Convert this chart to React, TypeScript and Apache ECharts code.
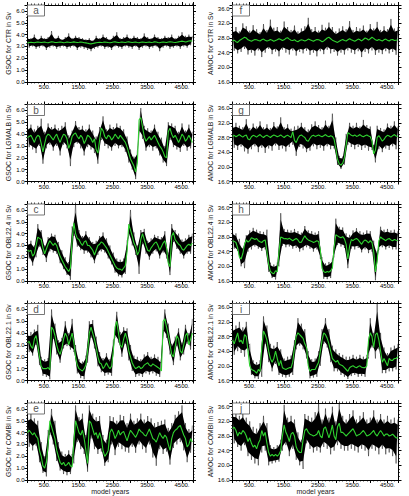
import React, { useEffect, useRef } from "react";
import * as echarts from "echarts";

// Sample years (50-year spacing) shared by every series
const YEARS: number[] = [];
for (let y = 0; y <= 4800; y += 50) YEARS.push(y);

const X_MAX = 4820;
const X_LABEL_YEARS = [500, 1500, 2500, 3500, 4500];

// Annual series is stored as alternating highs (even index) and lows (odd index);
// the running mean is the smoothed green curve.

// ---- GSOC (left column) ----
const gsocCtrRaw = [
  3.8, 2.9, 3.7, 3.0, 4.0, 2.8, 3.6, 2.9, 3.9, 3.0,
  3.7, 2.7, 3.8, 2.9, 4.3, 3.0, 3.7, 2.8, 3.9, 2.9,
  3.6, 3.0, 3.8, 2.8, 4.1, 2.9, 3.7, 3.0, 3.9, 2.7,
  3.8, 2.9, 3.7, 2.8, 3.6, 2.7, 3.7, 2.6, 3.5, 2.8,
  3.9, 2.9, 3.7, 3.0, 4.0, 2.8, 3.8, 2.9, 3.6, 2.7,
  3.9, 3.0, 4.2, 2.9, 3.7, 2.8, 3.8, 3.0, 4.0, 2.9,
  3.7, 2.8, 3.9, 3.0, 3.8, 2.7, 3.7, 2.9, 4.1, 3.0,
  3.8, 2.8, 3.7, 2.9, 4.0, 3.0, 3.8, 2.6, 3.7, 2.9,
  3.9, 3.0, 3.8, 2.8, 4.0, 2.9, 3.7, 3.0, 3.9, 2.8,
  4.2, 3.0, 3.9, 2.9, 4.0, 3.1, 3.9,
];
const gsocCtrMean = [
  3.30, 3.33, 3.36, 3.34, 3.31, 3.35, 3.38, 3.36, 3.33, 3.35,
  3.37, 3.34, 3.32, 3.36, 3.39, 3.37, 3.34, 3.33, 3.36, 3.38,
  3.35, 3.32, 3.34, 3.37, 3.35, 3.33, 3.36, 3.39, 3.36, 3.33,
  3.35, 3.38, 3.36, 3.32, 3.30, 3.27, 3.24, 3.22, 3.25, 3.28,
  3.31, 3.34, 3.36, 3.33, 3.35, 3.38, 3.36, 3.33, 3.31, 3.34,
  3.37, 3.39, 3.36, 3.33, 3.35, 3.38, 3.36, 3.34, 3.37, 3.39,
  3.36, 3.33, 3.35, 3.37, 3.34, 3.32, 3.35, 3.38, 3.36, 3.33,
  3.35, 3.37, 3.34, 3.36, 3.39, 3.37, 3.34, 3.32, 3.35, 3.38,
  3.36, 3.34, 3.37, 3.40, 3.38, 3.35, 3.33, 3.36, 3.39, 3.42,
  3.45, 3.42, 3.38, 3.41, 3.46, 3.48, 3.45,
];

const gsocLgmalbRaw = [
  4.6, 2.9, 4.8, 2.7, 4.4, 2.4, 4.7, 3.0, 5.3, 1.5,
  4.2, 2.8, 4.9, 3.1, 4.6, 2.6, 4.8, 3.0, 4.5, 2.2,
  4.7, 3.1, 5.0, 2.8, 3.9, 1.3, 4.3, 2.9, 5.1, 3.2,
  4.6, 2.8, 4.7, 2.2, 4.4, 2.9, 4.8, 2.7, 4.3, 2.4,
  3.8, 1.5, 4.6, 3.5, 5.5, 3.0, 4.4, 2.8, 4.8, 2.6,
  4.6, 3.0, 4.9, 2.8, 4.7, 2.9, 4.4, 2.5, 3.8, 1.6,
  2.7, 1.0, 2.1, 0.2, 2.6, 4.0, 6.2, 3.6, 4.7, 2.6,
  4.5, 2.9, 4.3, 2.6, 4.8, 2.8, 4.2, 2.2, 3.7, 1.6,
  3.0, 1.3, 5.0, 3.5, 4.9, 2.9, 4.7, 2.7, 4.2, 2.5,
  4.9, 3.0, 4.3, 2.6, 4.8, 2.8, 4.2,
];
const gsocLgmalbMean = [
  3.7, 3.8, 3.9, 3.6, 3.3, 3.7, 3.9, 3.8, 3.2, 2.5,
  3.2, 3.8, 4.0, 3.9, 3.7, 3.5, 3.8, 4.0, 3.6, 3.3,
  3.7, 4.0, 3.9, 3.6, 2.8, 3.2, 3.8, 4.0, 4.1, 3.8,
  3.6, 3.9, 3.7, 3.2, 3.5, 3.9, 3.8, 3.6, 3.3, 3.6,
  2.7, 2.4, 3.5, 4.5, 4.3, 3.8, 3.6, 3.9, 3.8, 3.5,
  3.7, 4.0, 3.8, 3.6, 3.9, 3.7, 3.5, 3.3, 2.9, 2.4,
  1.9, 1.6, 1.3, 0.8, 1.6, 5.2, 5.4, 4.6, 3.8, 3.4,
  3.6, 3.8, 3.5, 3.7, 3.9, 3.6, 3.3, 3.0, 2.8, 2.5,
  2.1, 2.0, 4.2, 4.5, 4.0, 3.7, 3.9, 3.6, 3.3, 3.6,
  4.0, 3.8, 3.4, 3.6, 3.9, 3.6, 3.3,
];

const gsocObl224Raw = [
  3.2, 1.9, 3.4, 1.3, 3.0, 2.0, 4.8, 2.9, 4.3, 2.2,
  3.0, 1.6, 3.7, 2.5, 4.0, 2.4, 3.9, 2.3, 3.3, 1.5,
  2.6, 1.0, 2.0, 0.5, 1.6, 0.1, 4.6, 3.8, 6.5, 2.9,
  4.3, 2.6, 3.8, 2.3, 4.2, 2.4, 3.7, 2.0, 3.3, 1.5,
  3.4, 2.2, 3.8, 2.5, 4.1, 2.4, 3.6, 1.9, 3.0, 1.4,
  2.4, 0.7, 1.9, 0.4, 1.8, 0.3, 1.9, 0.6, 3.4, 3.8,
  6.0, 3.0, 4.1, 2.2, 3.0, 0.6, 4.3, 3.1, 4.4, 2.3,
  3.4, 1.8, 3.6, 2.3, 3.9, 2.5, 3.8, 1.9, 3.7, 2.4,
  4.2, 1.9, 2.4, 0.5, 4.8, 3.3, 4.3, 2.7, 4.0, 2.3,
  3.5, 1.9, 3.6, 2.3, 3.9, 2.3, 4.0,
];
const gsocObl224Mean = [
  2.6, 2.5, 2.6, 2.1, 2.3, 3.0, 3.7, 3.6, 3.5, 2.8,
  2.3, 2.7, 3.1, 3.4, 3.2, 3.0, 3.2, 3.0, 2.5, 2.1,
  1.8, 1.5, 1.2, 1.0, 0.8, 1.1, 3.5, 4.9, 4.0, 3.6,
  3.5, 3.2, 3.0, 3.3, 3.4, 3.0, 3.0, 2.8, 2.6, 2.2,
  2.6, 3.0, 3.1, 3.3, 3.2, 3.0, 2.8, 2.5, 2.2, 1.9,
  1.6, 1.3, 1.1, 1.0, 1.0, 0.9, 1.1, 1.3, 2.5, 4.8,
  4.3, 3.8, 3.2, 2.9, 2.2, 2.5, 3.5, 4.0, 3.5, 3.0,
  2.6, 2.5, 2.8, 3.0, 3.2, 3.3, 3.0, 2.6, 2.9, 3.2,
  3.4, 2.8, 1.5, 1.2, 3.8, 4.1, 3.5, 3.3, 3.1, 3.0,
  2.7, 2.6, 2.8, 3.0, 3.1, 3.0, 3.2,
];

const gsocObl221Raw = [
  4.0, 2.4, 4.1, 2.1, 4.3, 3.0, 4.7, 1.3, 2.0, 0.4,
  1.8, 0.3, 1.9, 0.1, 6.0, 3.5, 4.8, 2.2, 3.4, 1.5,
  3.6, 2.7, 5.0, 2.9, 4.0, 2.6, 5.2, 2.4, 3.0, 0.6,
  1.8, 0.2, 1.6, 0.1, 2.1, 1.5, 5.0, 3.6, 5.1, 2.7,
  3.7, 1.2, 2.4, 0.7, 1.9, 0.4, 2.3, 0.5, 1.8, 0.4,
  3.4, 3.6, 5.8, 3.2, 4.1, 2.0, 4.5, 3.1, 4.4, 1.7,
  3.0, 0.8, 2.1, 0.3, 2.0, 0.4, 1.8, 0.3, 2.2, 0.6,
  2.4, 0.5, 2.0, 0.6, 2.2, 0.4, 2.0, 0.3, 1.7, 4.0,
  6.0, 3.6, 4.8, 2.2, 3.1, 1.3, 3.7, 2.9, 4.4, 1.7,
  3.2, 2.2, 4.7, 3.1, 4.0, 2.6, 5.2,
];
const gsocObl221Mean = [
  3.2, 3.3, 2.9, 2.7, 3.5, 3.8, 3.0, 2.0, 1.2, 1.0,
  1.0, 1.0, 1.1, 0.9, 4.5, 4.3, 3.8, 3.0, 2.5, 2.2,
  2.7, 3.5, 4.0, 3.7, 3.0, 3.5, 4.0, 3.2, 2.0, 1.3,
  1.0, 0.9, 0.8, 1.0, 1.3, 2.5, 4.0, 4.5, 4.0, 3.5,
  2.8, 2.0, 1.5, 1.4, 1.0, 1.2, 1.5, 1.2, 1.0, 1.2,
  2.5, 4.5, 5.0, 4.0, 3.0, 2.8, 3.5, 4.0, 3.5, 2.5,
  2.0, 1.5, 1.2, 1.0, 1.1, 1.2, 1.0, 1.1, 1.3, 1.4,
  1.5, 1.3, 1.2, 1.4, 1.3, 1.2, 1.1, 1.0, 0.8, 5.0,
  5.2, 4.5, 3.8, 3.0, 2.2, 2.0, 2.8, 3.8, 3.5, 2.5,
  2.3, 3.0, 3.8, 4.0, 3.0, 3.5, 4.0,
];

const gsocCombiRaw = [
  5.4, 2.8, 5.6, 2.5, 5.2, 2.9, 5.0, 1.5, 3.2, 0.6,
  2.0, 0.3, 4.2, 3.8, 6.0, 3.0, 5.0, 1.6, 3.2, 0.8,
  2.4, 0.5, 2.2, 0.4, 2.5, 0.5, 2.2, 1.4, 6.3, 3.2,
  5.3, 2.6, 5.6, 2.2, 3.8, 0.7, 6.3, 3.5, 5.6, 2.6,
  5.3, 2.2, 5.4, 2.4, 3.8, 1.2, 3.4, 1.5, 5.4, 3.0,
  5.3, 2.1, 5.0, 2.8, 5.5, 2.6, 5.4, 2.4, 4.8, 2.3,
  5.6, 2.8, 5.0, 2.3, 5.2, 3.0, 5.6, 2.6, 5.1, 2.3,
  5.4, 3.0, 5.2, 1.9, 4.8, 1.2, 4.9, 2.6, 5.0, 2.2,
  5.1, 2.4, 4.4, 1.3, 4.8, 2.7, 5.5, 3.0, 5.8, 3.2,
  6.3, 2.5, 4.8, 1.5, 4.3, 2.3, 4.6,
];
const gsocCombiMean = [
  4.0, 4.2, 4.0, 3.8, 4.0, 3.7, 3.5, 2.5, 2.0, 1.2,
  1.0, 1.5, 3.0, 5.0, 4.5, 4.0, 3.5, 2.5, 2.0, 1.5,
  1.3, 1.5, 1.2, 1.3, 1.5, 1.2, 1.1, 3.2, 5.0, 4.5,
  4.0, 3.8, 4.2, 3.5, 2.5, 1.4, 5.0, 4.8, 4.3, 3.8,
  4.0, 3.5, 4.0, 3.5, 2.5, 2.0, 2.2, 2.5, 4.0, 4.3,
  4.0, 3.5, 3.8, 4.2, 3.8, 4.0, 4.1, 3.7, 3.3, 3.8,
  4.2, 4.0, 3.8, 3.6, 3.9, 4.3, 4.1, 4.0, 3.8, 3.7,
  4.0, 4.3, 3.9, 3.5, 3.4, 3.2, 3.6, 4.0, 3.7, 3.5,
  3.8, 3.6, 3.0, 2.5, 3.5, 4.0, 4.2, 4.3, 4.5, 4.6,
  4.2, 3.8, 3.5, 2.8, 3.0, 3.5, 3.2,
];

// ---- AMOC (right column) ----
const amocCtrRaw = [
  30.5, 24.5, 31.0, 23.8, 29.8, 24.2, 32.0, 25.0, 31.2, 23.5,
  30.0, 24.0, 31.5, 23.2, 30.4, 24.6, 29.6, 22.8, 31.8, 24.0,
  30.2, 25.0, 33.0, 23.6, 30.8, 24.3, 31.0, 23.0, 30.0, 24.8,
  32.5, 24.0, 31.0, 23.5, 30.2, 24.6, 31.4, 23.2, 29.8, 24.2,
  30.6, 23.8, 31.2, 24.5, 33.5, 23.4, 30.4, 24.0, 31.0, 23.0,
  30.0, 24.4, 31.6, 23.6, 30.8, 24.8, 32.2, 23.8, 31.0, 24.2,
  29.8, 23.2, 30.6, 24.0, 31.2, 23.5, 30.4, 24.6, 32.6, 24.0,
  30.2, 23.6, 31.0, 24.4, 30.6, 22.8, 31.4, 24.2, 30.0, 23.8,
  31.8, 24.6, 30.6, 23.4, 32.4, 24.0, 30.2, 23.6, 31.2, 24.4,
  30.4, 23.8, 33.2, 24.2, 30.6, 23.4, 31.0,
];
const amocCtrMean = [
  27.2, 27.4, 27.0, 26.8, 27.3, 27.6, 27.9, 28.2, 28.0, 27.5,
  27.3, 27.1, 27.4, 27.6, 27.5, 27.3, 27.2, 27.5, 27.7, 27.4,
  27.2, 27.3, 27.6, 27.4, 27.1, 27.3, 27.5, 27.8, 27.6, 27.3,
  27.5, 27.9, 28.1, 27.7, 27.4, 27.3, 27.5, 27.2, 27.0, 27.3,
  27.5, 27.4, 27.2, 27.4, 27.7, 27.5, 27.3, 27.1, 27.4, 27.6,
  27.5, 27.3, 27.0, 27.2, 27.6, 28.0, 28.2, 27.8, 27.4, 27.2,
  27.0, 26.8, 27.1, 27.4, 27.6, 27.3, 27.2, 27.5, 27.8, 27.5,
  27.3, 27.1, 27.4, 27.7, 27.5, 27.2, 27.6, 28.0, 27.8, 27.4,
  27.8, 28.2, 27.9, 27.5, 27.3, 27.6, 27.4, 27.2, 27.5, 27.7,
  27.4, 27.2, 27.5, 27.6, 27.3, 27.4, 27.5,
];

const amocLgmalbRaw = [
  31.5, 25.2, 32.0, 24.6, 31.2, 25.5, 30.8, 24.2, 33.0, 23.6,
  30.6, 24.8, 31.8, 25.6, 31.0, 24.0, 32.4, 25.2, 30.8, 23.8,
  31.6, 25.0, 30.6, 24.4, 32.2, 25.8, 31.0, 24.6, 33.5, 25.0,
  30.8, 24.2, 31.6, 25.4, 30.4, 26.0, 31.0, 23.0, 31.2, 25.4,
  32.0, 25.0, 30.8, 24.0, 30.2, 24.4, 31.6, 25.6, 32.4, 24.8,
  31.4, 25.2, 30.8, 24.4, 32.6, 25.6, 31.2, 24.8, 34.5, 25.0,
  28.0, 20.5, 23.0, 19.4, 22.8, 20.6, 29.0, 26.0, 32.0, 25.4,
  31.2, 24.8, 32.0, 25.4, 31.0, 24.6, 32.8, 25.2, 31.4, 24.4,
  31.0, 24.6, 26.0, 21.2, 31.2, 24.8, 30.6, 24.0, 30.2, 25.0,
  31.8, 24.6, 31.2, 25.6, 32.4, 24.8, 31.0,
];
const amocLgmalbMean = [
  28.3, 28.6, 28.2, 28.5, 28.8, 28.4, 28.1, 28.5, 28.7, 27.6,
  27.4, 28.2, 28.6, 28.4, 28.1, 28.5, 28.8, 28.3, 28.0, 28.4,
  28.6, 28.3, 28.0, 28.4, 28.7, 28.5, 28.2, 28.4, 28.7, 28.3,
  28.0, 28.4, 28.6, 28.3, 28.0, 29.6, 27.2, 26.6, 27.8, 28.5,
  28.7, 28.3, 28.0, 27.2, 27.0, 27.8, 28.4, 28.6, 28.3, 28.5,
  28.7, 28.4, 28.2, 28.5, 28.8, 28.4, 28.2, 28.5, 28.3, 27.5,
  25.0, 22.0, 20.8, 20.5, 21.0, 22.5, 26.0, 29.3, 29.0, 28.6,
  28.4, 28.7, 28.3, 28.5, 28.8, 28.4, 28.2, 28.5, 28.7, 28.4,
  28.2, 27.0, 23.5, 24.5, 28.0, 28.5, 27.8, 27.0, 27.5, 28.2,
  28.6, 28.4, 28.1, 28.5, 28.8, 28.4, 28.2,
];

const amocObl224Raw = [
  29.5, 24.8, 29.0, 24.2, 27.5, 20.0, 25.0, 19.5, 28.5, 24.0,
  29.8, 24.6, 30.5, 25.4, 30.0, 24.8, 29.6, 24.2, 29.4, 24.6,
  30.0, 18.5, 21.0, 16.8, 20.5, 16.4, 21.0, 20.0, 34.5, 25.6,
  30.2, 25.2, 30.0, 25.4, 29.8, 24.8, 30.2, 25.0, 29.6, 24.0,
  29.2, 24.4, 31.0, 25.2, 29.8, 24.8, 29.6, 24.0, 29.2, 24.6,
  29.6, 22.0, 22.5, 16.6, 20.8, 16.5, 21.2, 16.8, 22.0, 22.5,
  33.0, 25.8, 30.8, 25.4, 30.6, 25.0, 29.0, 19.5, 28.6, 24.8,
  29.8, 24.6, 30.4, 25.0, 29.6, 23.8, 29.2, 24.6, 29.8, 23.6,
  29.6, 24.0, 27.0, 16.2, 24.0, 24.5, 30.8, 25.2, 30.0, 24.6,
  30.2, 25.0, 29.8, 24.6, 30.0, 24.6, 29.6,
];
const amocObl224Mean = [
  27.0, 26.8, 26.5, 25.0, 22.5, 22.0, 23.5, 26.0, 27.2, 26.6,
  27.0, 27.8, 27.6, 27.3, 27.6, 27.0, 26.7, 26.5, 27.0, 27.2,
  24.0, 20.5, 18.6, 18.2, 18.0, 18.8, 18.5, 24.0, 28.0, 27.8,
  27.5, 27.6, 27.4, 27.7, 27.3, 27.0, 27.3, 27.6, 27.2, 26.5,
  26.6, 27.5, 28.3, 27.6, 27.2, 27.0, 26.8, 26.5, 26.7, 27.0,
  26.8, 24.5, 19.5, 18.5, 18.3, 18.6, 18.4, 18.8, 19.5, 25.0,
  28.6, 28.3, 28.0, 27.8, 28.1, 27.5, 26.0, 22.0, 25.5, 27.3,
  27.0, 27.4, 27.6, 27.2, 26.6, 26.0, 26.8, 27.2, 26.9, 26.4,
  27.0, 26.5, 24.0, 18.5, 21.5, 27.0, 28.0, 27.6, 27.3, 27.0,
  27.4, 27.6, 27.2, 27.0, 27.3, 27.1, 27.0,
];

const amocObl221Raw = [
  30.5, 23.0, 31.0, 24.0, 32.0, 23.5, 30.5, 22.5, 32.0, 25.5,
  26.0, 17.5, 21.5, 16.6, 21.0, 16.4, 21.5, 17.0, 33.5, 26.0,
  31.0, 21.0, 26.0, 18.5, 25.5, 20.5, 26.5, 17.5, 24.5, 17.0,
  22.0, 16.8, 22.5, 17.0, 22.8, 17.5, 27.0, 24.5, 33.0, 25.5,
  31.5, 24.5, 30.0, 22.0, 24.0, 16.6, 21.8, 16.8, 22.0, 17.0,
  24.0, 20.0, 30.0, 26.0, 33.0, 25.0, 30.0, 21.0, 25.5, 18.5,
  24.5, 18.5, 23.5, 17.5, 23.0, 17.0, 22.5, 16.4, 22.5, 17.2,
  23.0, 17.5, 22.5, 17.0, 23.0, 17.2, 22.5, 17.0, 23.0, 22.0,
  33.0, 25.0, 29.0, 22.0, 37.0, 24.5, 29.0, 18.0, 25.0, 18.0,
  23.5, 18.5, 25.0, 18.5, 25.5, 19.0, 26.0,
];
const amocObl221Mean = [
  27.0, 26.0, 27.5, 29.0, 26.5, 27.0, 26.0, 28.5, 28.0, 24.0,
  20.0, 19.0, 18.8, 18.5, 18.0, 19.0, 18.5, 25.0, 29.5, 28.5,
  27.0, 24.0, 22.0, 21.0, 22.0, 24.0, 22.0, 20.0, 21.5, 19.5,
  19.2, 19.0, 19.3, 19.5, 19.5, 21.0, 25.0, 28.0, 29.0, 28.5,
  28.0, 27.5, 26.0, 25.0, 20.0, 18.5, 19.0, 19.0, 19.0, 20.0,
  21.0, 24.0, 27.0, 29.0, 28.5, 27.5, 26.0, 24.0, 22.0, 21.5,
  21.0, 21.5, 20.5, 20.2, 20.0, 19.5, 19.0, 18.5, 19.5, 19.8,
  20.0, 19.7, 19.5, 19.8, 20.0, 19.6, 19.5, 19.5, 20.0, 27.0,
  29.0, 28.0, 25.0, 28.5, 29.0, 27.0, 24.0, 21.0, 22.0, 21.0,
  20.0, 22.0, 21.5, 21.5, 22.0, 22.0, 22.5,
];

const amocCombiRaw = [
  34.5, 26.0, 34.5, 25.0, 33.5, 24.0, 34.5, 25.5, 33.0, 22.5,
  32.0, 21.5, 30.5, 20.5, 30.0, 20.0, 31.5, 23.5, 33.5, 24.0,
  31.5, 20.0, 25.5, 20.5, 25.0, 20.8, 25.5, 21.0, 27.0, 24.0,
  36.5, 25.5, 33.0, 22.5, 33.5, 24.5, 32.5, 21.5, 29.0, 20.0,
  27.0, 19.0, 34.0, 26.0, 33.5, 24.5, 33.0, 23.5, 34.5, 24.0,
  37.0, 23.5, 32.5, 25.0, 35.5, 24.5, 33.0, 23.0, 36.0, 24.0,
  32.0, 25.5, 37.0, 24.5, 33.5, 24.0, 32.5, 24.0, 34.0, 24.5,
  35.0, 24.0, 32.5, 23.5, 33.5, 24.5, 34.5, 24.0, 32.5, 22.5,
  33.0, 24.5, 35.0, 24.0, 32.5, 23.0, 34.0, 24.5, 32.5, 23.0,
  33.5, 23.5, 32.5, 22.5, 33.0, 20.5, 32.5,
];
const amocCombiMean = [
  30.0, 30.4, 29.5, 28.0, 29.0, 28.5, 29.5, 29.0, 28.0, 26.5,
  27.5, 26.0, 25.0, 25.5, 24.5, 26.0, 27.0, 29.5, 28.0, 29.0,
  26.0, 23.5, 22.5, 23.0, 22.5, 23.0, 22.5, 23.0, 24.0, 28.0,
  31.0, 29.0, 28.0, 26.5, 28.5, 29.0, 28.0, 25.0, 24.0, 23.5,
  23.5, 27.0, 29.5, 30.0, 29.0, 28.5, 28.3, 28.0, 28.2, 28.5,
  29.5, 28.0, 27.5, 30.0, 30.5, 29.0, 27.5, 29.0, 31.0, 28.0,
  27.0, 30.5, 31.5, 29.0, 29.0, 28.5, 28.0, 28.5, 29.0, 29.5,
  30.0, 29.0, 28.0, 28.3, 28.5, 29.0, 29.5, 28.8, 28.0, 28.2,
  28.5, 29.0, 29.5, 28.5, 28.0, 28.8, 29.5, 28.8, 28.0, 28.5,
  28.5, 28.0, 28.2, 28.5, 28.0, 27.5, 27.5,
];

type Panel = {
  letter: string;
  title: string;
  kind: "GSOC" | "AMOC";
  col: number;
  row: number;
  raw: number[];
  mean: number[];
};

const PANELS: Panel[] = [
  { letter: "a", title: "GSOC for CTR in Sv", kind: "GSOC", col: 0, row: 0, raw: gsocCtrRaw, mean: gsocCtrMean },
  { letter: "b", title: "GSOC for LGMALB in Sv", kind: "GSOC", col: 0, row: 1, raw: gsocLgmalbRaw, mean: gsocLgmalbMean },
  { letter: "c", title: "GSOC for OBL22.4 in Sv", kind: "GSOC", col: 0, row: 2, raw: gsocObl224Raw, mean: gsocObl224Mean },
  { letter: "d", title: "GSOC for OBL22.1 in Sv", kind: "GSOC", col: 0, row: 3, raw: gsocObl221Raw, mean: gsocObl221Mean },
  { letter: "e", title: "GSOC for COMBI in Sv", kind: "GSOC", col: 0, row: 4, raw: gsocCombiRaw, mean: gsocCombiMean },
  { letter: "f", title: "AMOC for CTR in Sv", kind: "AMOC", col: 1, row: 0, raw: amocCtrRaw, mean: amocCtrMean },
  { letter: "g", title: "AMOC for LGMALB in Sv", kind: "AMOC", col: 1, row: 1, raw: amocLgmalbRaw, mean: amocLgmalbMean },
  { letter: "h", title: "AMOC for OBL22.4 in Sv", kind: "AMOC", col: 1, row: 2, raw: amocObl224Raw, mean: amocObl224Mean },
  { letter: "i", title: "AMOC for OBL22.1 in Sv", kind: "AMOC", col: 1, row: 3, raw: amocObl221Raw, mean: amocObl221Mean },
  { letter: "j", title: "AMOC for COMBI in Sv", kind: "AMOC", col: 1, row: 4, raw: amocCombiRaw, mean: amocCombiMean },
];

const FONT = '"Liberation Sans", Arial, Helvetica, sans-serif';
const GREEN = "#2fd12f";
// Share of each excursion drawn as the solid core; the rest shows as thin spikes
const CORE = 0.72;

function buildOption(): echarts.EChartsOption {
  const grid: any[] = [];
  const xAxis: any[] = [];
  const yAxis: any[] = [];
  const series: any[] = [];
  const graphic: any[] = [];

  PANELS.forEach((p, i) => {
    const left = p.col === 0 ? 27.5 : 232.5;
    const width = p.col === 0 ? 165.5 : 166;
    const top = 5 + p.row * 99.5;
    const height = 77;
    grid.push({ left, top, width, height });

    const isG = p.kind === "GSOC";
    const yMin = isG ? 0 : 16;
    const yMax = isG ? 6.5 : 37;
    const yInt = isG ? 1 : 4;

    const lineStyle = { color: "#000", width: 1 };
    const xBase = {
      type: "value",
      gridIndex: i,
      min: 0,
      max: X_MAX,
      interval: 500,
      splitLine: { show: false },
      axisLine: { show: true, onZero: false, lineStyle },
      axisTick: { show: true, length: 3, lineStyle },
      minorTick: { show: true, splitNumber: 5, length: 1.5, lineStyle: { color: "#000", width: 0.7 } },
    };
    xAxis.push({
      ...xBase,
      position: "bottom",
      axisLabel: {
        show: true,
        fontSize: 6,
        margin: 2,
        color: "#000",
        fontFamily: FONT,
        showMaxLabel: false,
        formatter: (v: number) => (X_LABEL_YEARS.indexOf(v) >= 0 ? `${v}.` : ""),
      },
    });
    xAxis.push({ ...xBase, position: "top", axisLabel: { show: false } });

    const yBase = {
      type: "value",
      gridIndex: i,
      min: yMin,
      max: yMax,
      interval: yInt,
      splitLine: { show: false },
      axisLine: { show: true, onZero: false, lineStyle },
      axisTick: { show: true, length: 3, lineStyle },
      minorTick: { show: true, splitNumber: 4, length: 1.5, lineStyle: { color: "#000", width: 0.7 } },
    };
    yAxis.push({
      ...yBase,
      position: "left",
      axisLabel: {
        show: true,
        fontSize: 6,
        margin: 3,
        color: "#000",
        fontFamily: FONT,
        showMaxLabel: false,
        formatter: (v: number) => v.toFixed(1),
      },
      name: p.title,
      nameLocation: "middle",
      nameGap: isG ? 14 : 16,
      nameRotate: 90,
      nameTextStyle: { fontSize: 6.8, color: "#222", fontFamily: FONT },
    });
    yAxis.push({ ...yBase, position: "right", axisLabel: { show: false } });

    // Solid core of the annual series between its highs and lows
    series.push({
      type: "custom",
      xAxisIndex: 2 * i,
      yAxisIndex: 2 * i,
      data: [[YEARS[0], p.raw[0]]],
      clip: true,
      silent: true,
      z: 1,
      renderItem: (_params: any, api: any) => {
        const pt = (k: number) =>
          api.coord([YEARS[k], p.mean[k] + CORE * (p.raw[k] - p.mean[k])]);
        const pts: number[][] = [];
        for (let k = 0; k < YEARS.length; k += 2) pts.push(pt(k));
        for (let k = YEARS.length - 2; k >= 1; k -= 2) pts.push(pt(k));
        return { type: "polygon", shape: { points: pts }, style: { fill: "#000", stroke: "none" } };
      },
    });
    // The annual series itself (its outer spikes)
    series.push({
      type: "line",
      xAxisIndex: 2 * i,
      yAxisIndex: 2 * i,
      data: YEARS.map((y, k) => [y, p.raw[k]]),
      symbol: "none",
      clip: true,
      silent: true,
      lineStyle: { color: "#000", width: 0.6, opacity: 0.75 },
      z: 2,
    });
    // Running mean
    series.push({
      type: "line",
      xAxisIndex: 2 * i,
      yAxisIndex: 2 * i,
      data: YEARS.map((y, k) => [y, p.mean[k]]),
      symbol: "none",
      clip: true,
      silent: true,
      lineStyle: { color: GREEN, width: 1.1 },
      z: 3,
    });

    graphic.push({
      type: "rect",
      shape: { x: left, y: top, width: 17, height: 11 },
      style: { fill: "#fff", stroke: "#555", lineWidth: 0.8 },
      z: 100,
    });
    graphic.push({
      type: "text",
      x: left + 8.5,
      y: top + 5.5,
      style: {
        text: p.letter,
        fontSize: 10,
        fontFamily: FONT,
        fill: "#555",
        align: "center",
        verticalAlign: "middle",
        textAlign: "center",
        textVerticalAlign: "middle",
      },
      z: 101,
    });
    if (p.row === 4) {
      graphic.push({
        type: "text",
        x: left + width / 2,
        y: 491.8,
        style: {
          text: "model years",
          fontSize: 7,
          fontFamily: FONT,
          fill: "#222",
          align: "center",
          verticalAlign: "middle",
          textAlign: "center",
          textVerticalAlign: "middle",
        },
        z: 101,
      });
    }
  });

  return {
    animation: false,
    backgroundColor: "#fff",
    grid,
    xAxis,
    yAxis,
    series,
    graphic,
  } as any;
}

export default function App() {
  const ref = useRef<HTMLDivElement>(null);
  useEffect(() => {
    if (!ref.current) return;
    const chart = echarts.init(ref.current, undefined, { renderer: "svg" });
    chart.setOption(buildOption());
    return () => chart.dispose();
  }, []);
  return (
    <div
      ref={ref}
      style={{ position: "fixed", left: 0, top: 0, width: 409, height: 496, background: "#fff" }}
    />
  );
}
